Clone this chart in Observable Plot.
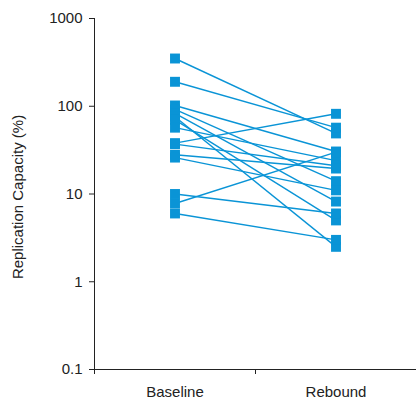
<!DOCTYPE html>
<html>
<head>
<meta charset="utf-8">
<script src="https://cdn.jsdelivr.net/npm/d3@7"></script>
<script src="https://cdn.jsdelivr.net/npm/@observablehq/plot@0.6"></script>
<style>
  html, body { margin: 0; padding: 0; background: #fff; }
  #chart { width: 416px; height: 400px; }
</style>
</head>
<body>
<div id="chart"></div>
<script>
const categories = ["Baseline", "Rebound"];
const baseline = [350, 190, 102, 92, 83, 76, 70, 57, 38, 37, 28, 26, 10, 7.8, 6];
const rebound  = [49, 57, 30.5, 14, 8.2, 2.5, 5, 24, 82, 21, 19.5, 11, 6, 30, 3];
const yTicks = [0.1, 1, 10, 100, 1000];
const yTickLabels = ["0.1", "1", "10", "100", "1000"];
const yLabel = "Replication Capacity (%)";

const pairs = baseline.map((b, i) => ({b, r: rebound[i]}));
const points = [
  ...baseline.map(v => ({cat: 0, v})),
  ...rebound.map(v => ({cat: 1, v}))
];
const boundaries = [-0.5, 0.5, 1.5];
const blue = "#0a94d6";
const yFmt = d => {
  let best = 0, bd = Infinity;
  yTicks.forEach((t, i) => { const dd = Math.abs(Math.log10(t) - Math.log10(d)); if (dd < bd) { bd = dd; best = i; } });
  return yTickLabels[best];
};

const chart = Plot.plot({
  width: 416,
  height: 400,
  marginTop: 18,
  marginBottom: 31,
  marginLeft: 94,
  marginRight: 0,
  style: {fontFamily: "'Liberation Sans', Arial, sans-serif", fontSize: "15px", color: "#222", background: "#fff"},
  x: {type: "linear", domain: [-0.5, 1.5]},
  y: {type: "log", domain: [0.1, 1000]},
  marks: [
    Plot.axisX({ticks: boundaries, tickFormat: () => "", tickSize: 5, label: null}),
    Plot.axisX({ticks: categories.map((c, i) => i), tickFormat: i => categories[i], tickSize: 0, tickPadding: 17, label: null}),
    Plot.axisY({ticks: yTicks, tickFormat: yFmt, tickSize: 5, tickPadding: 7, label: null}),
    Plot.ruleX([-0.5], {stroke: "#222", strokeWidth: 1}),
    Plot.ruleY([0.1], {stroke: "#222", strokeWidth: 1}),
    Plot.text([yLabel], {frameAnchor: "left", textAnchor: "middle", dx: -76, dy: 3, rotate: -90, fontSize: 15, fill: "#222"}),
    Plot.link(pairs, {x1: () => 0, x2: () => 1, y1: "b", y2: "r", stroke: blue, strokeWidth: 1.4}),
    Plot.dot(points, {x: "cat", y: "v", symbol: "square", r: 5.6, fill: blue, stroke: "none"})
  ]
});
document.getElementById("chart").appendChild(chart);
</script>
</body>
</html>
